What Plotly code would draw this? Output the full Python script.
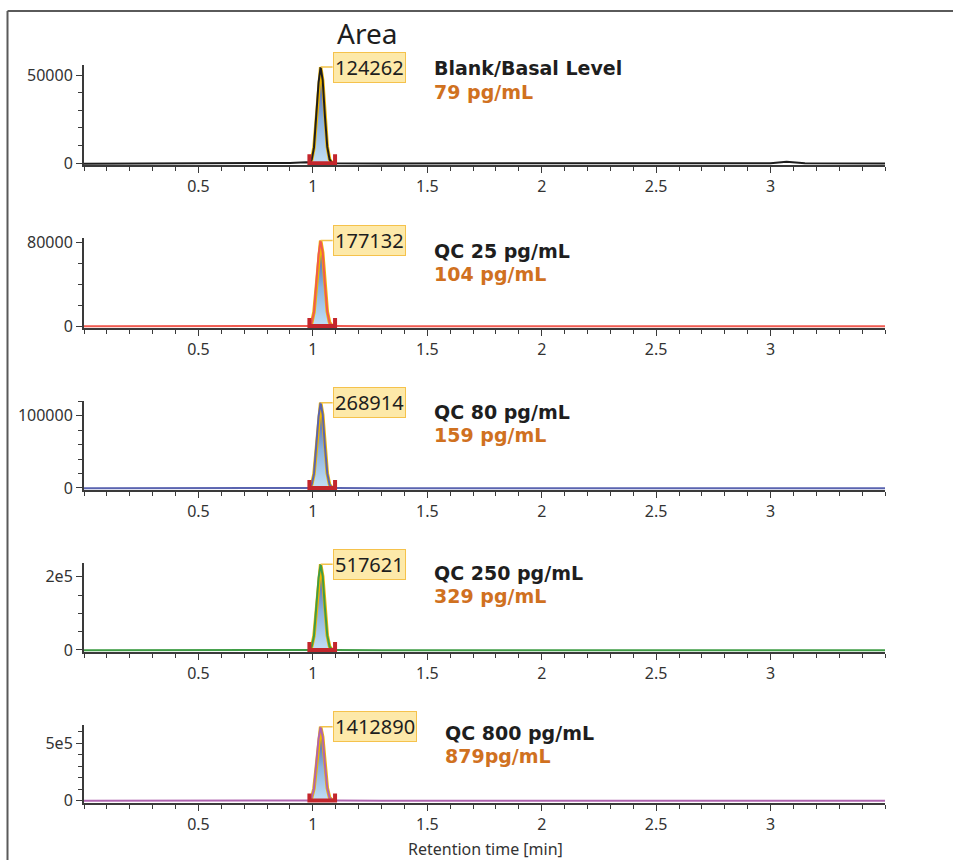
import plotly.graph_objects as go

# ---------------- data ----------------
sample_names = ["Blank/Basal Level", "QC 25 pg/mL", "QC 80 pg/mL", "QC 250 pg/mL", "QC 800 pg/mL"]
found_conc = ["79 pg/mL", "104 pg/mL", "159 pg/mL", "329 pg/mL", "879pg/mL"]
peak_areas = ["124262", "177132", "268914", "517621", "1412890"]

apex_rt = 1.034
integ_start = 0.985
integ_end = 1.097

peak_rt = [0.985, 0.995, 1.005, 1.015, 1.025, 1.034, 1.043, 1.053, 1.063, 1.073, 1.085]
peak_p1 = [0, 2100, 9000, 25000, 45800, 54500, 46900, 26200, 9300, 2200, 0]
peak_p2 = [0, 3200, 13500, 37700, 68900, 82000, 70500, 39400, 13900, 3300, 0]
peak_p3 = [0, 4600, 19500, 54300, 99100, 118000, 101500, 56600, 20100, 4700, 0]
peak_p4 = [0, 9100, 38600, 107600, 196600, 234000, 201200, 112300, 39800, 9400, 0]
peak_p5 = [0, 25100, 106300, 296200, 541000, 644000, 553800, 309100, 109500, 25800, 0]

base_rt = [0, 0.25, 0.5, 0.75, 0.9, 0.97, 1.1, 1.3, 1.6, 2.0, 2.4, 2.8, 3.0, 3.07, 3.15, 3.5]
base_p1 = [-200, -100, -150, -100, 200, 600, 100, -100, -100, -150, -100, -100, 100, 900, 0, -150]
base_p2 = [-300, -200, -300, -200, 100, 500, 0, -200, -200, -300, -200, -200, -100, 300, -200, -300]
base_p3 = [-500, -300, -400, -300, 200, 800, 100, -300, -300, -400, -300, -300, -200, 300, -300, -400]
base_p4 = [-900, -600, -800, -600, 300, 1500, 200, -600, -600, -800, -600, -600, -400, 600, -600, -800]
base_p5 = [-2500, -2000, -2200, -2000, 800, 4000, 500, -2000, -2000, -2200, -2000, -2000, -1500, 1500, -2000, -2200]

y_tickvals = [[0, 50000], [0, 80000], [0, 100000], [0, 200000], [0, 500000]]
y_ticktext = [["0", "50000"], ["0", "80000"], ["0", "100000"], ["0", "2e5"], ["0", "5e5"]]
y_minor = [10000, 20000, 20000, 50000, 100000]
x_tickvals = [0.5, 1, 1.5, 2, 2.5, 3]
x_ticktext = ["0.5", "1", "1.5", "2", "2.5", "3"]

peaks = [peak_p1, peak_p2, peak_p3, peak_p4, peak_p5]
bases = [base_p1, base_p2, base_p3, base_p4, base_p5]

# ---------------- layout geometry (pixels) ----------------
W, H = 953, 860
y_ranges = [[-960, 55660], [-1900, 84500], [-2800, 120300], [-5500, 237400], [-22000, 659000]]
dom_px = [(65, 165), (238, 328), (401, 490), (563, 652), (725, 803)]  # (top, bottom)
x_px = (84, 885)
colors = ["#1e1e1e", "#f05a50", "#5a64b0", "#3f9d45", "#b064b0"]
label_pos = [(432, 68, 92), (432, 251, 274), (432, 412, 435), (432, 573, 596), (443, 733, 756)]

def py(p):
    return 1 - p / H

def px(p):
    return p / W

fig = go.Figure()
layout = dict(
    width=W, height=H, margin=dict(l=0, r=0, t=0, b=0, pad=0), autosize=False,
    paper_bgcolor="white", plot_bgcolor="white", showlegend=False,
    font=dict(family="Noto Sans", color="#333333", size=16),
)
annotations = []
shapes = []

for i in range(5):
    n = "" if i == 0 else str(i + 1)
    xa, ya = "x" + n, "y" + n
    ymin, ymax = y_ranges[i]
    # baseline
    fig.add_trace(go.Scatter(x=base_rt, y=bases[i], mode="lines", xaxis=xa, yaxis=ya,
                             line=dict(color=colors[i], width=2), hoverinfo="skip"))
    # filled peak
    fig.add_trace(go.Scatter(x=peak_rt, y=peaks[i], mode="lines", xaxis=xa, yaxis=ya, fill="tozeroy",
                             fillgradient=dict(type="vertical",
                                               colorscale=[[0, "#c2dff4"], [0.45, "#8db3df"], [1, "#3c4a9a"]]),
                             line=dict(color="#f2b700", width=3.5), hoverinfo="skip"))
    fig.add_trace(go.Scatter(x=peak_rt, y=peaks[i], mode="lines", xaxis=xa, yaxis=ya,
                             line=dict(color=colors[i], width=2), hoverinfo="skip"))
    # integration marker
    hh = 0.09 * (ymax - ymin)
    fig.add_trace(go.Scatter(x=[integ_start, integ_start, integ_end, integ_end], y=[hh, 0, 0, hh],
                             mode="lines", xaxis=xa, yaxis=ya,
                             line=dict(color="#c4262c", width=4), hoverinfo="skip"))

    top, bot = dom_px[i]
    layout["xaxis" + n] = dict(
        domain=[px(x_px[0]), px(x_px[1])], range=[0, 3.5], anchor=ya, automargin=False,
        showgrid=False, zeroline=False, showline=True, linecolor="#3a3a3a", linewidth=2,
        ticks="outside", ticklen=6, tickwidth=1, tickcolor="#3a3a3a",
        tickvals=x_tickvals, ticktext=x_ticktext, tickfont=dict(size=16, color="#333333"),
        minor=dict(dtick=0.1, tick0=0, ticks="outside", ticklen=4, tickcolor="#3a3a3a", showgrid=False),
        fixedrange=True,
    )
    layout["yaxis" + n] = dict(
        domain=[py(bot), py(top)], range=[ymin, ymax], anchor=xa, automargin=False,
        showgrid=False, zeroline=False, showline=True, linecolor="#3a3a3a", linewidth=2,
        ticks="outside", ticklen=6, tickwidth=1, tickcolor="#3a3a3a",
        tickvals=y_tickvals[i], ticktext=y_ticktext[i], tickfont=dict(size=16, color="#333333"),
        minor=dict(dtick=y_minor[i], tick0=0, ticks="outside", ticklen=4, tickcolor="#3a3a3a", showgrid=False),
        fixedrange=True,
    )

    # area box
    annotations.append(dict(
        x=apex_rt, y=max(peaks[i]), xref=xa, yref=ya, text=peak_areas[i],
        showarrow=True, arrowhead=0, arrowwidth=1.5, arrowcolor="#f2c24a",
        ax=12, ay=0, xanchor="left", yanchor="middle",
        font=dict(family="Noto Sans", size=20, color="#1e1e1e"),
        bgcolor="#fde9a9", bordercolor="#f5c24c", borderwidth=1, borderpad=1,
    ))
    lx, ly1, ly2 = label_pos[i]
    annotations.append(dict(x=px(lx), y=py(ly1), xref="paper", yref="paper", text="<b>" + sample_names[i] + "</b>",
                            showarrow=False, xanchor="left", yanchor="middle",
                            font=dict(family="DejaVu Sans", size=19, color="#1e1e1e")))
    annotations.append(dict(x=px(lx), y=py(ly2), xref="paper", yref="paper", text="<b>" + found_conc[i] + "</b>",
                            showarrow=False, xanchor="left", yanchor="middle",
                            font=dict(family="DejaVu Sans", size=19, color="#d0711f")))

annotations.append(dict(x=px(367), y=py(33), xref="paper", yref="paper", text="Area", showarrow=False,
                        xanchor="center", yanchor="middle", font=dict(family="Noto Sans", size=28, color="#1e1e1e")))
annotations.append(dict(x=px(485), y=py(849), xref="paper", yref="paper", text="Retention time [min]",
                        showarrow=False, xanchor="center", yanchor="middle",
                        font=dict(family="Noto Sans", size=16, color="#333333")))

# outer frame
shapes.append(dict(type="line", xref="paper", yref="paper", x0=px(7.5), x1=px(7.5), y0=py(11), y1=0,
                   line=dict(color="#5a5a5a", width=2)))
shapes.append(dict(type="line", xref="paper", yref="paper", x0=px(7.5), x1=1, y0=py(11), y1=py(11),
                   line=dict(color="#5a5a5a", width=2)))

layout["annotations"] = annotations
layout["shapes"] = shapes
fig.update_layout(**layout)
fig.write_html("out.html", config={"displayModeBar": False},
               post_script="document.body.style.margin='0';document.body.style.overflow='hidden';")
